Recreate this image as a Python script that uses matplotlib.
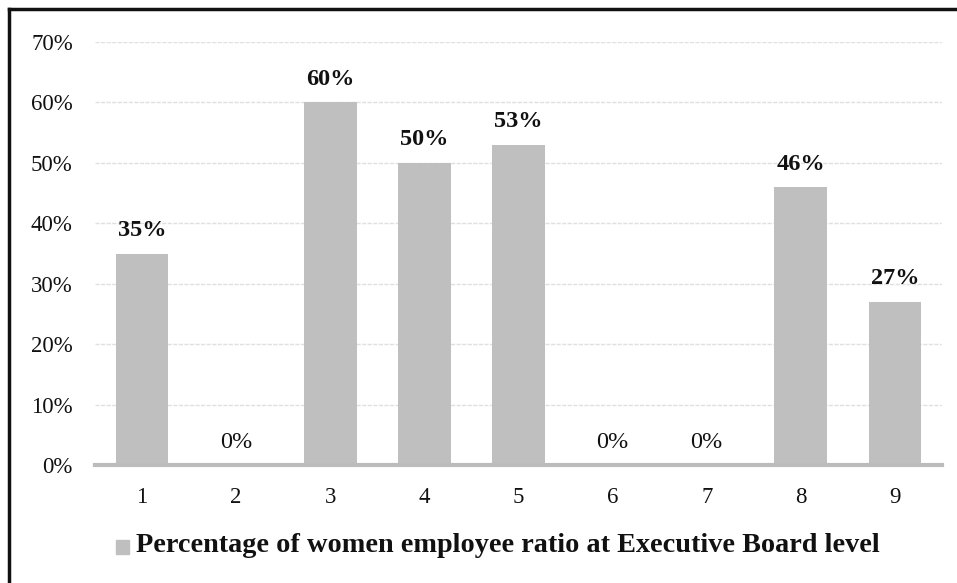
import matplotlib
matplotlib.use("Agg")
import matplotlib.pyplot as plt
from matplotlib.lines import Line2D
from matplotlib.patches import Rectangle
from matplotlib.ticker import FuncFormatter, MultipleLocator

plt.rcParams['font.family'] = ['Liberation Serif', 'DejaVu Serif']

categories = ['1', '2', '3', '4', '5', '6', '7', '8', '9']
values = [35, 0, 60, 50, 53, 0, 0, 46, 27]
series_name = 'Percentage of women employee ratio at Executive Board level'

bar_color = '#bfbfbf'

fig = plt.figure(figsize=(9.57, 5.83), dpi=100)
ax = fig.add_axes([95 / 957, 1 - 465 / 583, (942 - 95) / 957, (465 - 42) / 583])

x = list(range(len(categories)))
bars = ax.bar(x, values, width=0.56, color=bar_color, zorder=2)

ax.set_xlim(-0.5, len(categories) - 0.5)
ax.set_ylim(0, 70)
ax.yaxis.set_major_locator(MultipleLocator(10))
ax.yaxis.set_major_formatter(FuncFormatter(lambda v, p: f'{v:.0f}%'))
ax.set_xticks(x)
ax.set_xticklabels(categories)

ax.grid(axis='y', color='#e0e0e0', linestyle=(0, (3, 1)), linewidth=1.0, zorder=0)
ax.set_axisbelow(True)
for s in ['top', 'right', 'left']:
    ax.spines[s].set_visible(False)
ax.spines['bottom'].set_color('#bcbcbc')
ax.spines['bottom'].set_linewidth(3)
ax.spines['bottom'].set_zorder(3)
ax.tick_params(axis='both', length=0, labelsize=16.5, colors='#111111')
ax.tick_params(axis='x', pad=16)
ax.tick_params(axis='y', pad=16)

for xi, v in zip(x, values):
    ax.annotate(f'{v:.0f}%', (xi, v), xytext=(0, 9), textcoords='offset points',
                ha='center', va='bottom', fontsize=17.5,
                fontweight='bold' if v > 0 else 'normal', color='#111111')

# legend entry drawn below the axis
fig.patches.append(Rectangle((116 / 957, 1 - 554 / 583), 13 / 957, 14 / 583,
                             transform=fig.transFigure, color=bar_color))
fig.text(136 / 957, 1 - 546 / 583, series_name, ha='left', va='center',
         fontsize=20.3, fontweight='bold', color='#111111')

# frame along the top and left edges
fig.lines.append(Line2D([9 / 957, 9 / 957], [0, 1 - 9 / 583], transform=fig.transFigure,
                        color='#111111', linewidth=2.5))
fig.lines.append(Line2D([9 / 957, 1], [1 - 9 / 583, 1 - 9 / 583], transform=fig.transFigure,
                        color='#111111', linewidth=2.5))

fig.savefig('out.png', dpi=100)
